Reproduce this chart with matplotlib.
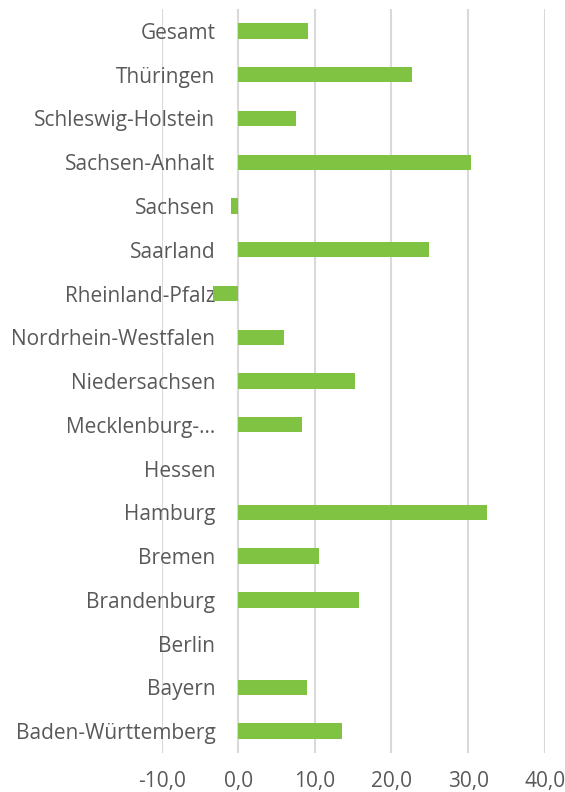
import numpy as np
import matplotlib.pyplot as plt
from matplotlib.ticker import FuncFormatter

# categories bottom -> top, as in the chart
laender = ["Baden-Württemberg", "Bayern", "Berlin", "Brandenburg", "Bremen",
           "Hamburg", "Hessen", "Mecklenburg-…", "Niedersachsen",
           "Nordrhein-Westfalen", "Rheinland-Pfalz", "Saarland", "Sachsen",
           "Sachsen-Anhalt", "Schleswig-Holstein", "Thüringen", "Gesamt"]
werte = [13.5, 9.0, np.nan, 15.8, 10.6,
         32.5, np.nan, 8.3, 15.2,
         6.0, -3.3, 24.9, -1.0,
         30.4, 7.5, 22.7, 9.1]
xticks = [-10, 0, 10, 20, 30, 40]

grau = "#595959"
plt.rcParams['font.family'] = ['Open Sans', 'DejaVu Sans']

fig = plt.figure(figsize=(5.65, 7.92), dpi=100)
ax = fig.add_axes([0.2862, 0.0492, 0.964 - 0.2862, 0.9886 - 0.0492])

y = np.arange(len(laender))
ax.barh(y, werte, height=0.35, color="#80C242", zorder=3)

ax.set_xlim(-10, 40)
ax.set_ylim(-0.5, len(laender) - 0.5)
ax.set_xticks(xticks)
ax.xaxis.set_major_formatter(FuncFormatter(lambda v, p: f"{v:.1f}".replace(".", ",")))
ax.set_yticks(y)
ax.set_yticklabels(laender)

# category labels sit next to the zero line, like in Excel
ax.spines['left'].set_position(('data', 0))
for s in ax.spines.values():
    s.set_visible(False)

ax.grid(axis='x', color="#d9d9d9", linewidth=1.5, zorder=0)
ax.tick_params(axis='both', length=0, labelsize=15, colors=grau)
ax.tick_params(axis='y', pad=16.5)
ax.tick_params(axis='x', pad=13)

fig.savefig("out.png", dpi=100)
